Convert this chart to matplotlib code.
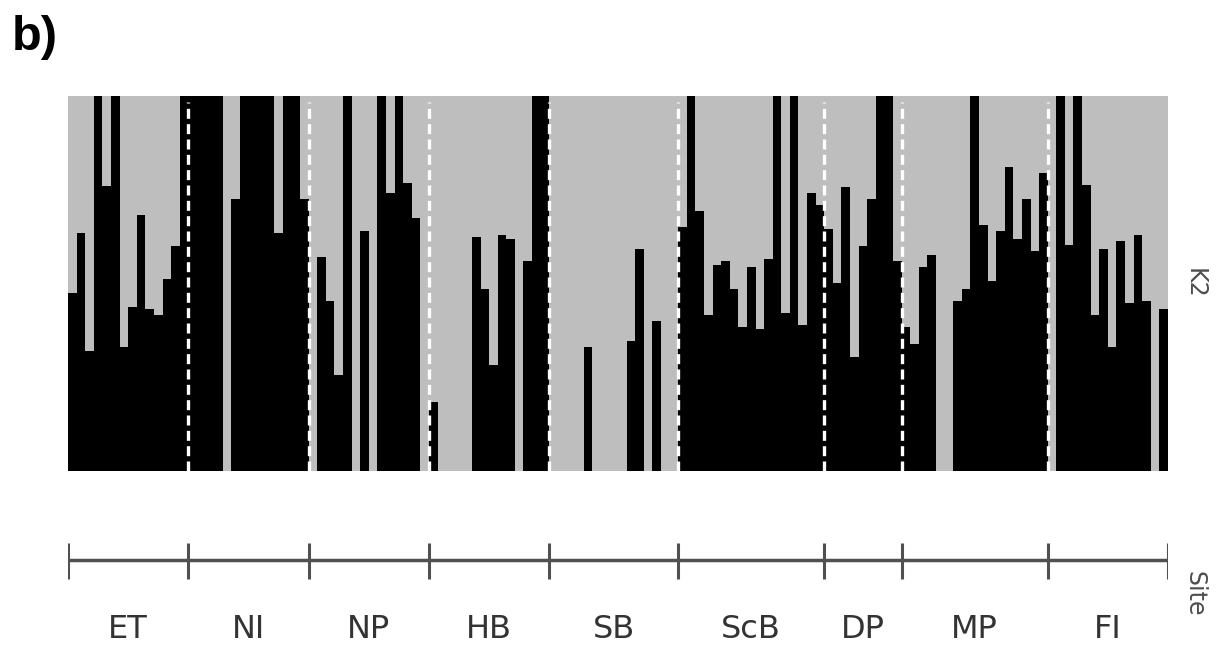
import numpy as np
import matplotlib.pyplot as plt

# site order and the K2 membership (black part) of each individual
sites = ["ET", "NI", "NP", "HB", "SB", "ScB", "DP", "MP", "FI"]

et = [0.475, 0.635, 0.32, 1.0, 0.76, 1.0, 0.33, 0.437, 0.683, 0.432, 0.416, 0.513, 0.60, 1.0]
ni = [1.0, 1.0, 1.0, 1.0, 0.0, 0.726, 1.0, 1.0, 1.0, 1.0, 0.635, 1.0, 1.0, 0.726]
np_ = [0.0, 0.571, 0.454, 0.256, 1.0, 0.0, 0.64, 0.0, 1.0, 0.742, 1.0, 0.768, 0.674, 0.0]
hb = [0.185, 0.0, 0.0, 0.0, 0.0, 0.625, 0.485, 0.283, 0.63, 0.619, 0.0, 0.561, 1.0, 1.0]
sb = [0.0, 0.0, 0.0, 0.0, 0.331, 0.0, 0.0, 0.0, 0.0, 0.347, 0.592, 0.0, 0.401, 0.0, 0.0]
scb = [0.651, 1.0, 0.694, 0.416, 0.55, 0.56, 0.485, 0.384, 0.545, 0.379, 0.565, 1.0,
       0.422, 1.0, 0.389, 0.742, 0.709]
dp = [0.646, 0.502, 0.758, 0.305, 0.599, 0.726, 1.0, 1.0, 0.561]
mp = [0.384, 0.34, 0.545, 0.577, 0.0, 0.0, 0.454, 0.485, 1.0, 0.657, 0.507, 0.64,
      0.811, 0.62, 0.726, 0.588, 0.795]
fi = [0.0, 1.0, 0.604, 1.0, 0.764, 0.416, 0.593, 0.331, 0.614, 0.449, 0.63, 0.454, 0.0, 0.432]

groups = [et, ni, np_, hb, sb, scb, dp, mp, fi]
k2 = np.concatenate(groups)
sizes = np.array([len(g) for g in groups])
edges = np.concatenate([[0], np.cumsum(sizes)])
n = len(k2)

fig = plt.figure(figsize=(12.2, 6.45), dpi=100)

# main structure plot
ax = fig.add_axes([68 / 1220, 1 - 471 / 645, 1100 / 1220, 375 / 645])
ax.set_facecolor("#bebebe")
ax.bar(np.arange(n), k2, width=1.0, align="edge", color="black", linewidth=0)
for e in edges[1:-1]:
    ax.vlines(e, 0, 0.985, colors="white", linewidth=2.4, linestyles=(0, (3, 1.6)))
ax.set_xlim(0, n)
ax.set_ylim(0, 1)
ax.set_xticks([])
ax.set_yticks([])
for s in ax.spines.values():
    s.set_visible(False)
ax.text(1.024, 0.5, "K2", transform=ax.transAxes, rotation=-90,
        ha="center", va="center", fontsize=17, color="#4d4d4d")

# site bracket underneath
ax2 = fig.add_axes([68 / 1220, 0, 1100 / 1220, 1 - 471 / 645])
ax2.set_xlim(0, n)
ax2.set_ylim(0, 174)  # pixel rows below the main panel
ax2.axis("off")
y_line = 645 - 560
ax2.hlines(y_line, 0, n, colors="#505050", linewidth=2.5)
ax2.vlines(edges, 645 - 579, 645 - 543, colors="#505050", linewidth=2.2)
mids = (edges[:-1] + edges[1:]) / 2
for m, name in zip(mids, sites):
    ax2.text(m, 645 - 629, name, ha="center", va="center", fontsize=23, color="#333333")
ax2.text(n * 1.024, 645 - 594, "Site", rotation=-90, ha="center", va="center",
         fontsize=17, color="#4d4d4d")

fig.text(12 / 1220, 1 - 37 / 645, "b)", fontsize=35, fontweight="bold",
         family="Liberation Sans", ha="left", va="center")

fig.savefig("out.png", dpi=100)
